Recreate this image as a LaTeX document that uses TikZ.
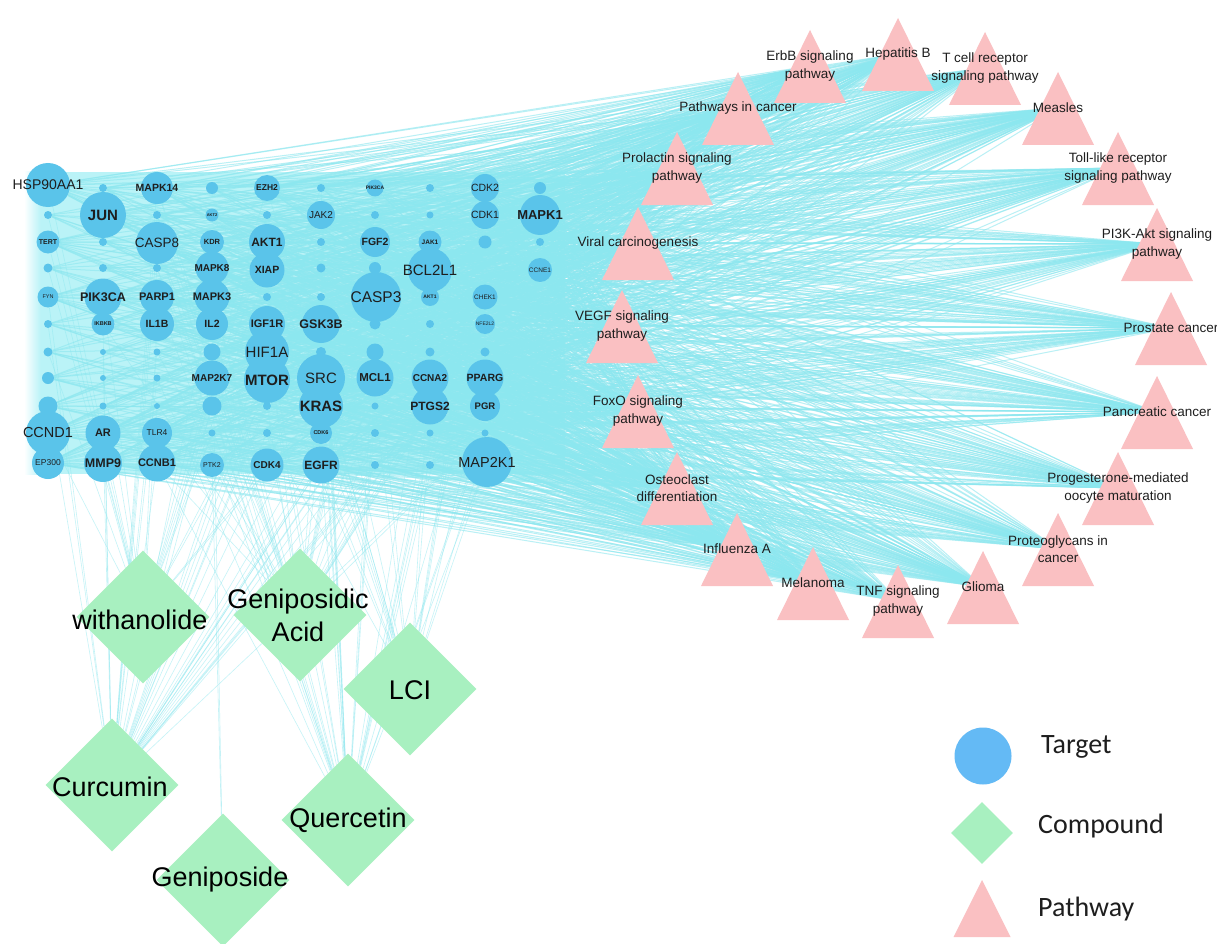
\documentclass[tikz,border=0pt]{standalone}
\usepackage{fontspec}
\setmainfont{Liberation Sans}
\newfontfamily\legfont{Carlito}
\usetikzlibrary{shapes.geometric,backgrounds}
\definecolor{tgtblue}{RGB}{90,196,234}
\definecolor{legblue}{RGB}{100,186,245}
\definecolor{cmpgreen}{RGB}{168,240,192}
\definecolor{pwpink}{RGB}{250,192,194}
\definecolor{edgecyan}{RGB}{140,231,239}
\definecolor{gridwash}{RGB}{186,243,247}
\definecolor{txt}{RGB}{30,30,30}
\def\tlist{%
t0-0/48/185/44/14/HSP90AA1/20,
t0-1/103/188/8/3/{}/3,
t0-2/157/188/32/10.5/{\bfseries MAPK14}/12,
t0-3/212/188/12/3/{}/4,
t0-4/267/188/26/8.5/{\bfseries EZH2}/8,
t0-5/321/188/8/3/{}/3,
t0-6/375/188/17/5/{\bfseries PIK3CA}/5,
t0-7/430/188/8/3/{}/2,
t0-8/485/188/28/10.5/CDK2/10,
t0-9/540/188/12/3/{}/4,
t1-0/48/215/8/3/{}/2,
t1-1/103/215/46/15/{\bfseries JUN}/18,
t1-2/157/215/8/3/{}/3,
t1-3/212/215/13/4/{\bfseries AKT2}/4,
t1-4/267/215/8/3/{}/3,
t1-5/321/215/28/10/JAK2/9,
t1-6/375/215/8/3/{}/2,
t1-7/430/215/7/3/{}/2,
t1-8/485/215/28/10.5/CDK1/9,
t1-9/540/215/40/13/{\bfseries MAPK1}/16,
t2-0/48/242/23/7/{\bfseries TERT}/6,
t2-1/103/242/8/3/{}/2,
t2-2/157/243/42/13.5/CASP8/16,
t2-3/212/242/24/7.5/{\bfseries KDR}/6,
t2-4/267/242/36/12/{\bfseries AKT1}/14,
t2-5/321/242/8/3/{}/3,
t2-6/375/242/30/10.5/{\bfseries FGF2}/10,
t2-7/430/242/23/6.5/{\bfseries JAK1}/6,
t2-8/485/242/13/3/{}/3,
t2-9/540/242/8/3/{}/2,
t3-0/48/268/9/3/{}/2,
t3-1/103/268/8/3/{}/2,
t3-2/157/268/8/3/{}/2,
t3-3/212/268/33/10/{\bfseries MAPK8}/12,
t3-4/267/270/35/10.5/{\bfseries XIAP}/12,
t3-5/321/268/9/3/{}/3,
t3-6/375/268/12/3/{}/3,
t3-7/430/270/44/15/BCL2L1/17,
t3-9/540/270/24/6.5/CCNE1/6,
t4-0/48/297/21/5.5/FYN/5,
t4-1/103/297/37/12.5/{\bfseries PIK3CA}/14,
t4-2/157/297/34/11/{\bfseries PARP1}/12,
t4-3/212/297/35/11/{\bfseries MAPK3}/13,
t4-4/267/297/8/3/{}/3,
t4-5/321/297/8/3/{}/3,
t4-6/376/297/50/15.5/CASP3/20,
t4-7/430/297/18/5/{\bfseries AKT1}/4,
t4-8/485/297/25/6.5/CHEK1/6,
t5-0/48/324/8/3/{}/2,
t5-1/103/324/23/5.5/{\bfseries IKBKB}/5,
t5-2/157/324/34/10.5/{\bfseries IL1B}/12,
t5-3/212/324/32/10.5/{\bfseries IL2}/11,
t5-4/267/324/36/11/{\bfseries IGF1R}/12,
t5-5/321/324/38/12.5/{\bfseries GSK3B}/13,
t5-6/375/324/11/3/{}/3,
t5-7/430/324/8/3/{}/2,
t5-8/485/324/20/5/NFE2L2/4,
t6-0/48/352/9/3/{}/2,
t6-1/103/352/6/3/{}/2,
t6-2/157/352/7/3/{}/2,
t6-3/212/352/17/3/{}/4,
t6-4/267/352/44/15/HIF1A/18,
t6-5/321/352/10/3/{}/3,
t6-6/375/352/17/3/{}/4,
t6-7/430/352/9/3/{}/2,
t6-8/485/352/9/3/{}/2,
t7-0/48/378/12/3/{}/3,
t7-1/103/378/6/3/{}/1,
t7-2/157/378/7/3/{}/2,
t7-3/212/378/35/10/{\bfseries MAP2K7}/12,
t7-4/267/380/46/15/{\bfseries MTOR}/18,
t7-5/321/378/48/15/SRC/19,
t7-6/375/378/37/11.5/{\bfseries MCL1}/13,
t7-7/430/378/37/10/{\bfseries CCNA2}/12,
t7-8/485/378/37/10.5/{\bfseries PPARG}/12,
t8-0/48/406/19/3/{}/4,
t8-1/103/406/7/3/{}/2,
t8-2/157/406/6/3/{}/2,
t8-3/212/406/19/3/{}/4,
t8-4/267/406/8/3/{}/2,
t8-5/321/406/44/15/{\bfseries KRAS}/18,
t8-6/375/406/7/3/{}/2,
t8-7/430/406/37/12/{\bfseries PTGS2}/13,
t8-8/485/406/30/9.5/{\bfseries PGR}/10,
t9-0/48/433/44/14.5/CCND1/17,
t9-1/103/433/35/11/{\bfseries AR}/12,
t9-2/157/433/30/8.5/TLR4/10,
t9-3/212/433/7/3/{}/2,
t9-4/267/433/8/3/{}/2,
t9-5/321/433/22/5.5/{\bfseries CDK6}/5,
t9-6/375/433/8/3/{}/2,
t9-7/430/433/7/3/{}/2,
t9-8/485/433/7/3/{}/2,
t10-0/48/463/32/8.5/EP300/11,
t10-1/103/463/38/12.5/{\bfseries MMP9}/13,
t10-2/157/463/37/11/{\bfseries CCNB1}/12,
t10-3/212/465/24/7/PTK2/6,
t10-4/267/465/33/10/{\bfseries CDK4}/11,
t10-5/321/465/37/12/{\bfseries EGFR}/13,
t10-6/375/465/8/3/{}/2,
t10-7/430/465/8/3/{}/2,
t10-8/487/462/50/14.5/MAP2K1/19%
}
\def\plist{%
p0/737/549/{Influenza A},
p1/677/488/{Osteoclast\\differentiation},
p2/638/411/{FoxO signaling\\pathway},
p3/622/326/{VEGF signaling\\pathway},
p4/638/243/{Viral carcinogenesis},
p5/677/168/{Prolactin signaling\\pathway},
p6/738/108/{Pathways in cancer},
p7/810/66/{ErbB signaling\\pathway},
p8/898/54/{Hepatitis B},
p9/985/68/{T cell receptor\\signaling pathway},
p10/1058/108/{Measles},
p11/1118/168/{Toll-like receptor\\signaling pathway},
p12/1157/244/{PI3K-Akt signaling\\pathway},
p13/1171/328/{Prostate cancer},
p14/1157/412/{Pancreatic cancer},
p15/1118/488/{Progesterone-mediated\\oocyte maturation},
p16/1058/549/{Proteoglycans in\\cancer},
p17/983/587/{Glioma},
p18/898/601/{TNF signaling\\pathway},
p19/813/583/{Melanoma}%
}
\begin{document}
\begin{tikzpicture}[x=1pt,y=-1pt,
  tgt/.style={circle,fill=tgtblue,inner sep=0pt},
  tlab/.style={inner sep=0pt,text=txt},
  cmp/.style={diamond,aspect=1,fill=cmpgreen,inner sep=0pt,minimum size=133pt},
  clab/.style={inner sep=0pt,text=black,align=center,font=\fontsize{27}{33}\selectfont},
  plab/.style={inner sep=0pt,text=txt,align=center,font=\fontsize{13.5}{17.5}\selectfont},
  pwfill/.style={fill=pwpink},
  edge/.style={draw=edgecyan,line width=1pt,opacity=0.6},
  cedge/.style={draw=edgecyan,line width=0.6pt,opacity=0.5},
  legtxt/.style={anchor=west,inner sep=0pt,text=txt,font=\legfont\fontsize{28}{30}\selectfont}
]
\useasboundingbox (0,0) rectangle (1217,944);
\begin{scope}[on background layer]
\fill[white] (0,0) rectangle (1217,944);
\fill[gridwash] (40,172) rectangle (565,474);
\shade[left color=white,right color=gridwash] (24,172) rectangle (40.5,474);
\end{scope}
% pathway triangles
\foreach \n/\x/\y/\t in \plist {
  \fill[pwfill] (\x,\y) ++(0,-36) -- ++(36,73) -- ++(-72,0) -- cycle;
}
% target circles
\foreach \n/\x/\y/\s/\f/\l/\d in \tlist {
  \node[tgt,minimum size={\s pt}] (\n) at (\x,\y) {};
}
% target labels
\foreach \n/\x/\y/\s/\f/\l/\d in \tlist {
  \node[tlab,font=\fontsize{\f}{\f}\selectfont] (\n-l) at (\n) {\l};
}
% pathway labels
\foreach \n/\x/\y/\t in \plist {
  \node[plab] (\n) at (\x,\y) {\t};
}
% compounds
\node[cmp] (wit) at (143,617) {};
\node[cmp] (gpa) at (300,615) {};
\node[cmp] (lci) at (410,689) {};
\node[cmp] (cur) at (112,785) {};
\node[cmp] (que) at (348,820) {};
\node[cmp] (gen) at (223,880) {};
\node[clab] (wit-l) at (140,620) {withanolide};
\node[clab] (gpa-l) at (298,615) {Geniposidic\\Acid};
\node[clab] (lci-l) at (410,690) {LCI};
\node[clab] (cur-l) at (110,787) {Curcumin};
\node[clab] (que-l) at (348,820) {Quercetin};
\node[clab] (gen-l) at (220,880) {Geniposide};
% legend
\node[circle,fill=legblue,minimum size=57pt,inner sep=0pt] (lg-t) at (983,756) {};
\node[diamond,aspect=1,fill=cmpgreen,minimum size=62pt,inner sep=0pt] (lg-c) at (982,833) {};
\node[inner sep=0pt,minimum size=0pt] (lg-p) at (982,909) {};
\fill[pwfill] (lg-p) ++(0,-29) -- ++(28.5,57) -- ++(-57,0) -- cycle;
\node[legtxt] (lg-tl) at (1041,747) {Target};
\node[legtxt] (lg-cl) at (1038,826) {Compound};
\node[legtxt] (lg-pl) at (1038,909) {Pathway};
% edges
\begin{scope}[on background layer]
\foreach \n/\x/\y/\s/\f/\l/\d [count=\k] in \tlist {
  \foreach \j in {0,...,19} {
    \pgfmathtruncatemacro\ok{mod(\j*7+\k*3,20)<(2*\d+4) ? 1 : 0}
    \ifnum\ok=1 \draw[edge] (\n) -- (p\j.center); \fi
  }
}
\foreach \c/\w/\o/\xa/\xb in {cur/4/0/0/560, que/4/3/140/560, wit/3/5/0/340, gpa/3/7/90/560, lci/3/9/240/560} {
  \foreach \n/\x/\y/\s/\f/\l/\d [count=\k] in \tlist {
    \pgfmathtruncatemacro\ok{and(mod(\k*7+\o*13,10)<\w, and(\x>\xa, \x<\xb)) ? 1 : 0}
    \ifnum\ok=1 \draw[cedge] (\c) -- (\n); \fi
  }
}
\foreach \t in {t10-3,t5-3}
  \draw[cedge] (gen) -- (\t);
\end{scope}
\end{tikzpicture}
\end{document}
